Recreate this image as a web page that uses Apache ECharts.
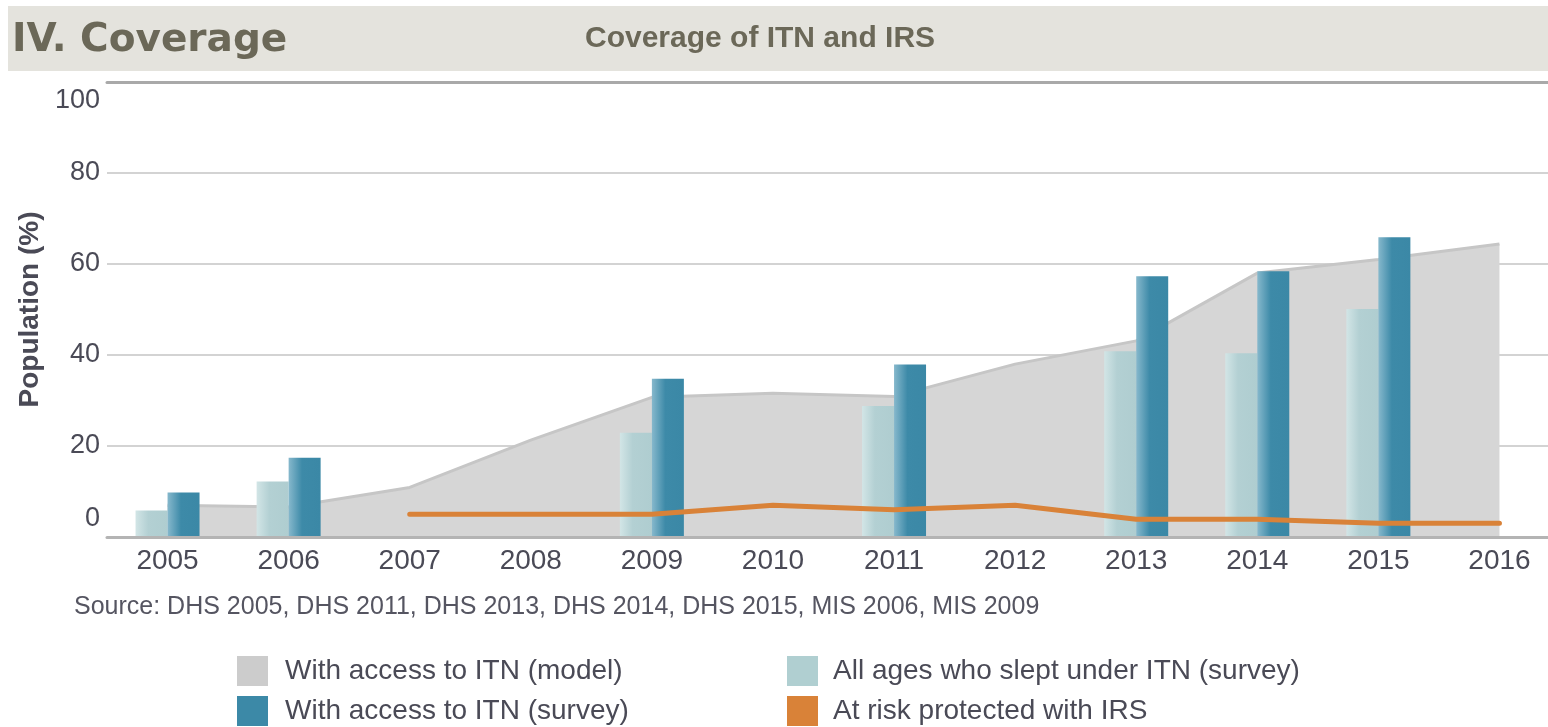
<!DOCTYPE html>
<html>
<head>
<meta charset="utf-8">
<title>Coverage of ITN and IRS</title>
<script src="https://cdn.jsdelivr.net/npm/echarts@6/dist/echarts.min.js"></script>
<style>
  html, body { margin: 0; padding: 0; background: #fff; overflow: hidden; }
  /* the plot runs a little past the right edge in the reference, so the canvas is wider than the window */
  #chart { width: 1560px; height: 727px; }
</style>
</head>
<body>
<div id="chart"></div>
<script>
// ---- data ----
const years = ['2005', '2006', '2007', '2008', '2009', '2010', '2011', '2012', '2013', '2014', '2015', '2016'];
const itnModel = [7.0, 6.6, 10.9, 21.3, 30.7, 31.6, 30.9, 38.0, 43.1, 58.0, 61.0, 64.4];
const sleptSurvey = [5.8, 12.2, null, null, 22.9, null, 28.8, null, 40.8, 40.4, 50.1, null];
const accessSurvey = [9.8, 17.4, null, null, 34.8, null, 37.9, null, 57.3, 58.4, 65.9, null];
const irsProtected = [null, null, 5.0, 5.0, 5.0, 7.0, 6.0, 7.0, 3.9, 3.9, 3.0, 3.0];
const yTicks = [0, 20, 40, 60, 80, 100];

const FONT = '"Liberation Sans", Arial, sans-serif';
const TEXT = '#4a4a56';
const HEAD = '#6b6858';

const chart = echarts.init(document.getElementById('chart'));

const option = {
    animation: false,
    textStyle: { fontFamily: FONT },
    graphic: [{
        type: 'rect',
        z: 0,
        shape: { x: 8, y: 6, width: 1560, height: 65 },
        style: { fill: '#e4e3dd' }
    }],
    title: [{
        text: 'IV. Coverage',
        left: 12, top: 21, padding: 0,
        textStyle: { fontFamily: '"DejaVu Sans", sans-serif', fontWeight: 'bold', fontSize: 39, color: HEAD }
    }, {
        text: 'Coverage of ITN and IRS',
        left: 585, top: 24, padding: 0,
        textStyle: { fontFamily: FONT, fontWeight: 'bold', fontSize: 30, color: HEAD }
    }, {
        text: 'Source: DHS 2005, DHS 2011, DHS 2013, DHS 2014, DHS 2015, MIS 2006, MIS 2009',
        left: 74, top: 595, padding: 0,
        textStyle: { fontFamily: FONT, fontWeight: 'normal', fontSize: 25, color: '#555561' }
    }],
    legend: [{
        orient: 'vertical',
        left: 237, top: 656, padding: 0,
        itemWidth: 31, itemHeight: 30, itemGap: 10,
        icon: 'rect',
        textStyle: { fontSize: 28, color: TEXT, padding: [0, 0, 0, 12] },
        data: [
            { name: 'With access to ITN (model)', itemStyle: { color: '#cccccc' } },
            { name: 'With access to ITN (survey)', itemStyle: { color: '#3c89a7' } }
        ]
    }, {
        orient: 'vertical',
        left: 787, top: 656, padding: 0,
        itemWidth: 31, itemHeight: 30, itemGap: 10,
        icon: 'rect',
        textStyle: { fontSize: 28, color: TEXT, padding: [0, 0, 0, 10] },
        data: [
            { name: 'All ages who slept under ITN (survey)', itemStyle: { color: '#b0cfd1' } },
            { name: 'At risk protected with IRS', itemStyle: { color: '#d98238' } }
        ]
    }],
    grid: { left: 107, right: 0, top: 82, bottom: 190 },
    xAxis: [{
        type: 'category',
        data: years,
        boundaryGap: true,
        axisLine: { lineStyle: { color: '#b4b4b4', width: 3 } },
        axisTick: { show: false },
        axisLabel: { fontSize: 28, color: TEXT, margin: 10 },
        z: 5
    }, {
        type: 'category',
        data: years,
        position: 'top',
        axisLine: { lineStyle: { color: '#a9a9a9', width: 3 } },
        axisTick: { show: false },
        axisLabel: { show: false },
        splitLine: { show: false }
    }],
    yAxis: {
        type: 'value',
        min: yTicks[0],
        max: yTicks[yTicks.length - 1],
        interval: 20,
        name: 'Population (%)',
        nameLocation: 'middle',
        nameRotate: 90,
        nameGap: 62,
        nameTextStyle: { fontSize: 28, fontWeight: 'bold', color: TEXT },
        axisLine: { show: false },
        axisTick: { show: false },
        splitLine: { lineStyle: { color: '#d3d3d3', width: 2 } },
        axisLabel: {
            margin: 7,
            color: TEXT,
            fontSize: 27,
            // the reference nudges the end labels inwards
            formatter: function (v) {
                if (v === 0) return '{lo|0}';
                if (v === 100) return '{hi|100}';
                return String(v);
            },
            rich: {
                lo: { fontSize: 27, color: TEXT, padding: [0, 0, 36, 0] },
                hi: { fontSize: 27, color: TEXT, padding: [37, 0, 0, 0] }
            }
        }
    },
    series: [{
        name: 'With access to ITN (model)',
        type: 'line',
        data: itnModel,
        symbol: 'none',
        z: 1,
        itemStyle: { color: '#cccccc' },
        lineStyle: { color: '#c6c6c6', width: 3 },
        areaStyle: { color: '#d6d6d6', opacity: 1 }
    }, {
        name: 'All ages who slept under ITN (survey)',
        type: 'bar',
        data: sleptSurvey,
        barWidth: 32,
        barGap: '0%',
        z: 3,
        itemStyle: {
            color: new echarts.graphic.LinearGradient(0, 0, 1, 0, [
                { offset: 0, color: '#d2e5e6' },
                { offset: 0.4, color: '#b3d0d3' },
                { offset: 1, color: '#afcdd0' }
            ])
        }
    }, {
        name: 'With access to ITN (survey)',
        type: 'bar',
        data: accessSurvey,
        barWidth: 32,
        barGap: '0%',
        z: 3,
        itemStyle: {
            color: new echarts.graphic.LinearGradient(0, 0, 1, 0, [
                { offset: 0, color: '#86b8cc' },
                { offset: 0.42, color: '#3d8aa8' },
                { offset: 1, color: '#3b88a6' }
            ])
        }
    }, {
        name: 'At risk protected with IRS',
        type: 'line',
        data: irsProtected,
        symbol: 'none',
        z: 4,
        itemStyle: { color: '#d98238' },
        lineStyle: { color: '#d98238', width: 5, cap: 'round', join: 'round' }
    }]
};

chart.setOption(option);
</script>
</body>
</html>
